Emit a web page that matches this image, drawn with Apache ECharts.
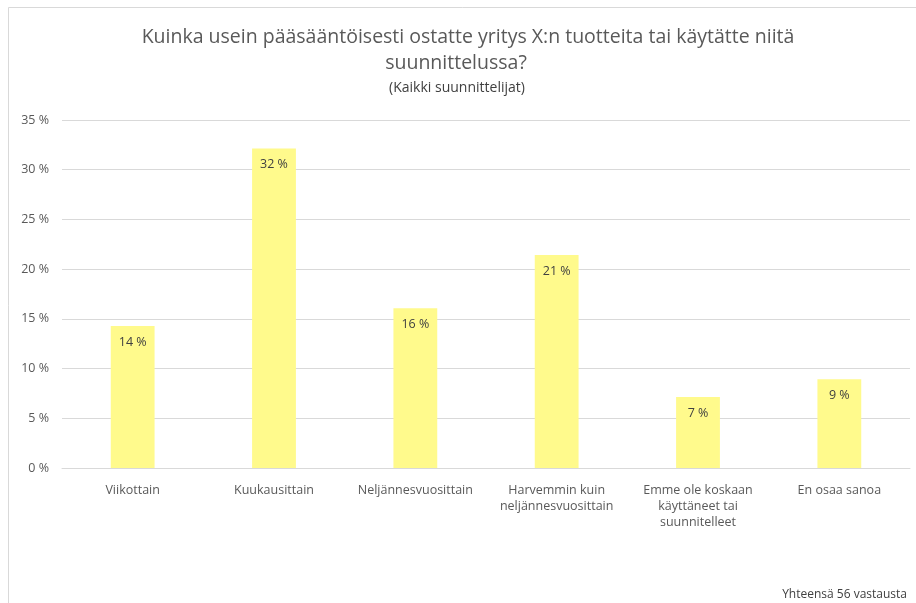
<!DOCTYPE html>
<html>
<head>
<meta charset="utf-8">
<script src="https://cdn.jsdelivr.net/npm/echarts@6/dist/echarts.min.js"></script>
<style>
  html, body { margin: 0; padding: 0; background: #fff; }
  #chart { width: 916px; height: 603px; }
</style>
</head>
<body>
<div id="chart"></div>
<script>
// Survey: purchase / planning frequency, all planners (n = 56)
const categories = [
  'Viikottain',
  'Kuukausittain',
  'Neljännesvuosittain',
  'Harvemmin kuin\nneljännesvuosittain',
  'Emme ole koskaan\nkäyttäneet tai\nsuunnitelleet',
  'En osaa sanoa'
];
const respondents = [8, 18, 9, 12, 4, 5];
const total = 56;
const shares = respondents.map(n => n / total * 100);
const yTicks = { min: 0, max: 35, interval: 5 };

const titleLines = [
  'Kuinka usein pääsääntöisesti ostatte yritys X:n tuotteita tai käytätte niitä',
  'suunnittelussa?'
];
const subtitle = '(Kaikki suunnittelijat)';
const footer = 'Yhteensä ' + total + ' vastausta';

const FONT = '"Open Sans", "Noto Sans", sans-serif';

function headingText(text, x, y, size, color) {
  return {
    type: 'text',
    silent: true,
    style: {
      text: text,
      x: x,
      y: y,
      align: 'center',
      verticalAlign: 'middle',
      fontFamily: FONT,
      fontSize: size,
      fill: color
    }
  };
}

const chart = echarts.init(document.getElementById('chart'), null, { renderer: 'canvas' });
chart.setOption({
  backgroundColor: '#ffffff',
  animation: false,
  title: [
    {
      text: footer,
      right: 4,
      top: 584,
      textStyle: { fontFamily: FONT, fontSize: 12, fontWeight: 'normal', color: '#404040' }
    }
  ],
  graphic: [
    {
      type: 'rect',
      shape: { x: 8.5, y: 7.5, width: 940, height: 640 },
      style: { fill: 'none', stroke: '#d9d9d9', lineWidth: 1 },
      silent: true,
      z: -1
    },
    headingText(titleLines[0], 468, 37, 19.5, '#595959'),
    headingText(titleLines[1], 456, 63, 19.5, '#595959'),
    headingText(subtitle, 457, 88, 14, '#404040')
  ],
  grid: { left: 62, right: 6, top: 120, bottom: 135, containLabel: false },
  xAxis: {
    type: 'category',
    data: categories,
    axisLine: { show: true, lineStyle: { color: '#d9d9d9' } },
    axisTick: { show: false },
    axisLabel: {
      interval: 0,
      margin: 14,
      fontFamily: FONT,
      fontSize: 12.5,
      color: '#595959',
      lineHeight: 16,
      align: 'center'
    }
  },
  yAxis: {
    type: 'value',
    min: yTicks.min,
    max: yTicks.max,
    interval: yTicks.interval,
    axisLine: { show: false },
    axisTick: { show: false },
    splitLine: { lineStyle: { color: '#d9d9d9', width: 1 } },
    axisLabel: {
      margin: 13,
      fontFamily: FONT,
      fontSize: 12.5,
      color: '#595959',
      formatter: v => v + ' %'
    }
  },
  series: [
    {
      type: 'bar',
      data: shares,
      barWidth: '31%',
      itemStyle: { color: '#fffa8c' },
      label: {
        show: true,
        position: 'insideTop',
        distance: 10,
        fontFamily: FONT,
        fontSize: 12.5,
        color: '#404040',
        formatter: p => Math.round(p.value) + ' %'
      }
    }
  ]
});
</script>
</body>
</html>
